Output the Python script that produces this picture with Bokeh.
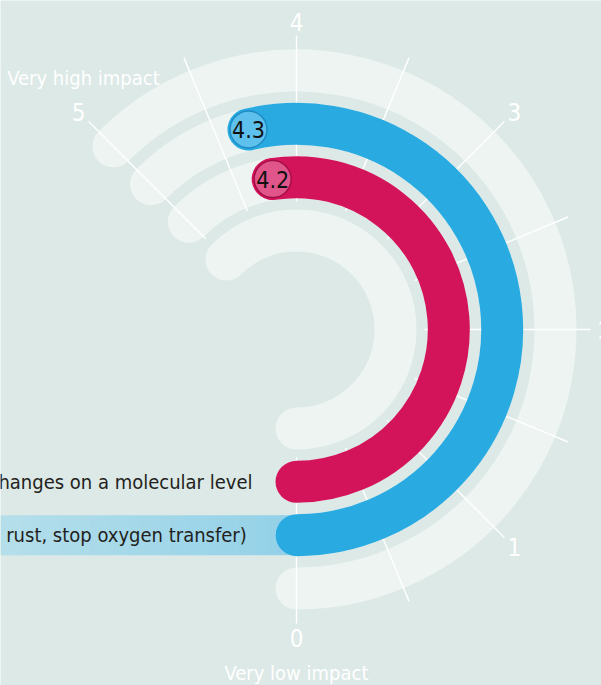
import numpy as np
from bokeh.plotting import figure
from bokeh.models import Range1d
from bokeh.embed import file_html
from bokeh.resources import INLINE
from bokeh.core.properties import value

# ---- data ----
categories = ["changes on a molecular level", " rust, stop oxygen transfer)"]
scores = [4.2, 4.3]
score_labels = ["4.2", "4.3"]
bar_colors = ["#D4145A", "#29ABE2"]
bubble_colors = ["#E0568A", "#5EC0EC"]
bubble_lines = ["#A50E47", "#1E8CC4"]
tick_values = [0, 1, 2, 3, 4, 5]
tick_labels = ["0", "1", "2", "3", "4", "5"]
minor_values = [0.5, 1.5, 2.5, 3.5, 4.5]
scale_max = 5
low_label = "Very low impact"
high_label = "Very high impact"

# ---- layout ----
W, H = 601, 685
BG = "#DCE9E6"
TRACK = "#EDF4F2"
FONT = "DejaVu Sans Condensed"

cx, cy = 296, H - 329
track_radii = [99, 152.3, 205.7, 259]
bar_track = [1, 2]
bar_w = 42


def theta(v):
    return -np.pi / 2 + v * np.pi / 4


p = figure(width=W, height=H, output_backend="svg",
           toolbar_location=None, x_range=Range1d(0, W),
           y_range=Range1d(0, H), min_border=0)
p.axis.visible = False
p.grid.visible = False
p.outline_line_color = None
p.background_fill_color = BG
p.border_fill_color = BG

# blue label band (gradient)
band_r = track_radii[bar_track[1]]
n = 30
xs = np.linspace(0, cx, n + 1)
c0 = np.array([0xB4, 0xDE, 0xEA])
c1 = np.array([0x93, 0xD1, 0xE8])
cols = ["#%02x%02x%02x" % tuple(int(round(v)) for v in (c0 + (c1 - c0) * t))
        for t in np.linspace(0, 1, n)]
p.quad(left=xs[:-1], right=xs[1:] + 0.5, bottom=cy - band_r - 20,
       top=cy - band_r + 20, fill_color=cols, line_color=None)

# background tracks
p.arc(x=[cx] * 4, y=[cy] * 4, radius=track_radii, start_angle=theta(0),
      end_angle=theta(scale_max), line_width=bar_w, line_color=TRACK,
      line_cap="round", direction="anticlock")

# ticks
all_ticks = sorted(tick_values + minor_values)
r0, r1 = 128, 294
a = np.array([theta(v) for v in all_ticks])
p.segment(x0=cx + r0 * np.cos(a), y0=cy + r0 * np.sin(a),
          x1=cx + r1 * np.cos(a), y1=cy + r1 * np.sin(a),
          line_color="white", line_width=1.4)

# bars
for i, s in enumerate(scores):
    r = track_radii[bar_track[i]]
    p.arc(x=[cx], y=[cy], radius=r, start_angle=theta(0), end_angle=theta(s),
          line_width=bar_w, line_color=bar_colors[i], line_cap="round",
          direction="anticlock")
    ex, ey = cx + r * np.cos(theta(s)), cy + r * np.sin(theta(s))
    p.circle(x=[ex], y=[ey], radius=18.5, fill_color=bubble_colors[i],
             line_color=bubble_lines[i], line_width=1.5)
    p.text(x=[ex], y=[ey], text=[score_labels[i]], text_align="center",
           text_baseline="middle", text_font=value(FONT),
           text_font_size="23px", text_color="#111111")
    p.text(x=[252], y=[cy - r], text=[categories[i]], text_align="right",
           text_baseline="middle", text_font=value(FONT),
           text_font_size="20px", text_color="#231F20")

# tick labels
rl = 308
ta = np.array([theta(v) for v in tick_values])
p.text(x=cx + rl * np.cos(ta), y=cy + rl * np.sin(ta), text=tick_labels,
       text_align="center", text_baseline="middle", text_font=value(FONT),
       text_font_size="24px", text_color="white")

p.text(x=[cx], y=[H - 672], text=[low_label], text_align="center",
       text_baseline="middle", text_font=value(FONT), text_font_size="20px",
       text_color="white")
p.text(x=[83], y=[H - 77], text=[high_label], text_align="center",
       text_baseline="middle", text_font=value(FONT), text_font_size="20px",
       text_color="white")

open("out.html", "w").write(file_html(p, INLINE))
